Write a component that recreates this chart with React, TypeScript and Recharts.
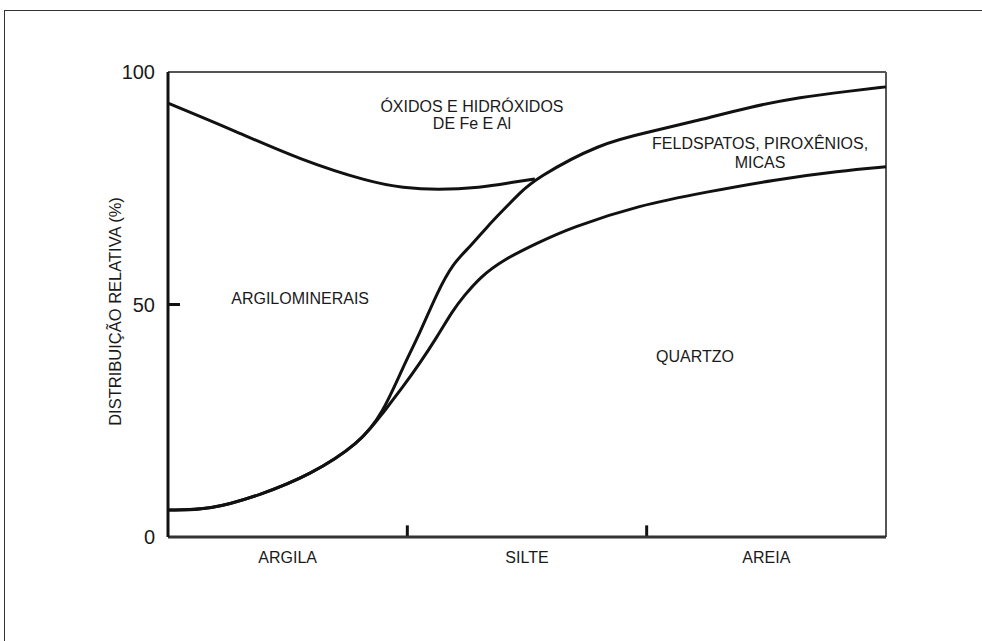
import React from "react";
import {
    LineChart,
    Line,
    XAxis,
    YAxis,
    ReferenceLine,
    ReferenceDot
} from "recharts";

// categorias granulometricas (eixo x vai de 0 a 3)
const categorias = ["ARGILA", "SILTE", "AREIA"];
const posCategorias = [0.5, 1.5, 2.5];
const yTicks = [0, 50, 100];

// limite superior dos oxidos e hidroxidos (curva de cima, a esquerda)
const oxidoX = [0, 0.272, 0.552, 0.844, 0.982, 1.124, 1.304, 1.442, 1.533];
const oxidoV = [93.3, 87.5, 81.1, 76.3, 75.1, 74.6, 75.1, 76.3, 77.0];

// limite superior de feldspatos, piroxenios, micas
const feldX = [0, 0.175, 0.384, 0.593, 0.802, 0.898, 0.982, 1.053, 1.124, 1.191, 1.262, 1.333, 1.4, 1.471, 1.533, 1.805, 2.014, 2.223, 2.432, 2.641, 2.85, 3];
const feldV = [5.8, 5.8, 9.0, 13.3, 20.2, 26.7, 36.6, 43.9, 52.5, 58.9, 62.4, 66.7, 70.3, 74.0, 77.0, 84.7, 87.1, 89.7, 92.5, 94.6, 95.9, 96.8];

// limite superior do quartzo
const quartzoX = [0, 0.175, 0.384, 0.593, 0.802, 0.898, 0.982, 1.053, 1.124, 1.191, 1.233, 1.304, 1.4, 1.542, 1.68, 1.972, 2.252, 2.528, 2.808, 3];
const quartzoV = [5.8, 5.8, 9.0, 13.3, 20.2, 26.7, 32.3, 37.4, 43.0, 48.8, 51.6, 55.9, 59.6, 63.2, 66.5, 71.4, 74.2, 76.8, 78.7, 79.6];

const toPoints = (xs: number[], vs: number[]) => xs.map((x, i) => ({ x, v: vs[i] }));

const FONT = "'Liberation Sans', Arial, sans-serif";
const INK = "#1a1a1a";

function rotulo(value: string) {
    return { value, position: "center" as const, fill: INK, fontSize: 16, fontFamily: FONT };
}

export default function App() {

    const oxidos = toPoints(oxidoX, oxidoV);
    const feldspatos = toPoints(feldX, feldV);
    const quartzo = toPoints(quartzoX, quartzoV);

    return (
        <div
            style={{
                position: "absolute",
                left: 0,
                top: 0,
                width: 982,
                height: 641,
                background: "white",
                overflow: "hidden"
            }}
        >
            <div
                style={{
                    position: "absolute",
                    left: 4,
                    top: 10,
                    width: 1100,
                    height: 800,
                    borderLeft: "1.5px solid #333",
                    borderTop: "1.5px solid #333"
                }}
            />

            <LineChart
                width={982}
                height={641}
                margin={{ top: 72, right: 96, bottom: 74, left: 108 }}
                style={{ position: "absolute", left: 0, top: 0 }}
            >

                <XAxis
                    type="number"
                    dataKey="x"
                    domain={[0, 3]}
                    ticks={posCategorias}
                    tickFormatter={(v: number) => categorias[posCategorias.indexOf(v)]}
                    tickLine={false}
                    tickSize={0}
                    tickMargin={15}
                    axisLine={{ stroke: "#333", strokeWidth: 3 }}
                    tick={{ fill: INK, fontSize: 16, fontFamily: FONT }}
                    height={30}
                />

                <YAxis
                    type="number"
                    domain={[0, 100]}
                    ticks={yTicks}
                    tickLine={false}
                    tickSize={0}
                    tickMargin={13}
                    width={60}
                    axisLine={{ stroke: "#111", strokeWidth: 3 }}
                    tick={{ fill: INK, fontSize: 20, fontFamily: FONT }}
                    label={{
                        value: "DISTRIBUIÇÃO RELATIVA (%)",
                        angle: -90,
                        position: "insideLeft",
                        offset: 7,
                        dy: 7,
                        fill: INK,
                        fontSize: 16.5,
                        fontFamily: FONT,
                        style: { textAnchor: "middle" }
                    }}
                />

                {/* moldura de cima e da direita */}
                <ReferenceLine y={100} stroke="#555" strokeWidth={2} />
                <ReferenceLine x={3} stroke="#555" strokeWidth={2} />

                {/* marcas internas */}
                <ReferenceLine segment={[{ x: 0, y: 50 }, { x: 0.05, y: 50 }]} stroke="#111" strokeWidth={3} />
                <ReferenceLine segment={[{ x: 1, y: 0 }, { x: 1, y: 2.5 }]} stroke="#111" strokeWidth={3} />
                <ReferenceLine segment={[{ x: 2, y: 0 }, { x: 2, y: 2.5 }]} stroke="#111" strokeWidth={3} />

                <Line data={oxidos} dataKey="v" type="basis" stroke="#111" strokeWidth={3} dot={false} isAnimationActive={false} />
                <Line data={feldspatos} dataKey="v" type="basis" stroke="#111" strokeWidth={3} dot={false} isAnimationActive={false} />
                <Line data={quartzo} dataKey="v" type="basis" stroke="#111" strokeWidth={3} dot={false} isAnimationActive={false} />

                <ReferenceDot x={1.27} y={92.7} r={0} stroke="none" label={rotulo("ÓXIDOS E HIDRÓXIDOS")} />
                <ReferenceDot x={1.27} y={89.0} r={0} stroke="none" label={rotulo("DE Fe E Al")} />
                <ReferenceDot x={2.474} y={84.7} r={0} stroke="none" label={rotulo("FELDSPATOS, PIROXÊNIOS,")} />
                <ReferenceDot x={2.474} y={80.6} r={0} stroke="none" label={rotulo("MICAS")} />
                <ReferenceDot x={0.552} y={51.4} r={0} stroke="none" label={rotulo("ARGILOMINERAIS")} />
                <ReferenceDot x={2.202} y={38.9} r={0} stroke="none" label={rotulo("QUARTZO")} />

            </LineChart>
        </div>
    );
}
